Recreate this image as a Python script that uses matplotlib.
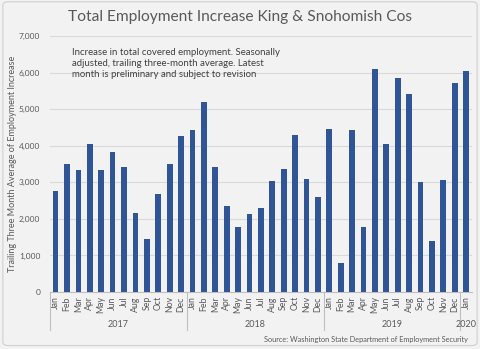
import numpy as np
import matplotlib
matplotlib.use('Agg')
import matplotlib.pyplot as plt
from matplotlib.patches import FancyBboxPatch

plt.rcParams['font.family'] = ['Lato', 'DejaVu Sans']

# monthly values, Jan 2017 .. Jan 2020
months = ['Jan', 'Feb', 'Mar', 'Apr', 'May', 'Jun', 'Jul', 'Aug', 'Sep', 'Oct', 'Nov', 'Dec'] * 3 + ['Jan']
years = ['2017', '2018', '2019', '2020']
year_counts = [12, 12, 12, 1]
values = [2770, 3500, 3330, 4040, 3330, 3830, 3430, 2170, 1460, 2680, 3500, 4270,
          4440, 5200, 3430, 2340, 1770, 2140, 2300, 3040, 3370, 4300, 3100, 2600,
          4460, 800, 4440, 1770, 6100, 4040, 5860, 5410, 3000, 1400, 3060, 5710,
          6050]

bg = '#f2f2f2'
bar_color = '#2f5597'
grid_color = '#d9d9d9'
text_gray = '#595959'

fig = plt.figure(figsize=(4.8, 3.49), dpi=100, facecolor=bg)
fig.patches.append(FancyBboxPatch((0.006, 0.01), 0.988, 0.985, boxstyle='round,pad=0,rounding_size=0.01',
                                  transform=fig.transFigure, facecolor=bg, edgecolor='#d0d0d0', lw=0.8, zorder=-1))
ax = fig.add_axes([0.104, 0.1633, 0.879, 0.7335])
ax.set_facecolor(bg)

x = np.arange(len(values))
ax.bar(x, values, width=0.5, color=bar_color, zorder=3)

ax.set_xlim(-0.5, len(values) - 0.5)
ax.set_ylim(0, 7000)
ax.set_yticks(range(0, 7001, 1000))
ax.set_yticklabels([f'{v:,}' for v in range(0, 7001, 1000)], fontsize=6, color=text_gray)
ax.yaxis.grid(True, color=grid_color, lw=0.8, zorder=0)
ax.tick_params(axis='y', length=0, pad=7)
for s in ['top', 'right', 'left']:
    ax.spines[s].set_visible(False)
ax.spines['bottom'].set_color('#bfbfbf')
ax.spines['bottom'].set_linewidth(0.8)

ax.set_xticks(x)
ax.set_xticklabels(months, rotation=90, fontsize=6.3, color=text_gray)
ax.tick_params(axis='x', length=0, pad=3)

# year group separators and labels
start = 0
edges = [-0.5]
for yr, n in zip(years, year_counts):
    center = start + (n - 1) / 2
    ax.text(center, -0.125, yr, transform=ax.get_xaxis_transform(), ha='center', va='center',
            fontsize=6.5, color=text_gray)
    start += n
    edges.append(start - 0.5)
for e in edges[:-1]:
    ax.plot([e, e], [0, -0.15], transform=ax.get_xaxis_transform(), color='#bfbfbf', lw=0.8, clip_on=False)

ax.set_ylabel('Trailing Three Month Average of Employment Increase', fontsize=6.5, color=text_gray)
ax.yaxis.set_label_coords(-0.078, 0.5)

fig.text(0.5, 0.952, 'Total Employment Increase King & Snohomish Cos', ha='center', va='center',
         fontsize=11.2, color=text_gray)
fig.text(0.151, 0.862, 'Increase in total covered employment. Seasonally\n'
         'adjusted, trailing three-month average. Latest\n'
         'month is preliminary and subject to revision',
         ha='left', va='top', fontsize=6.9, color='#404040', linespacing=1.3)
fig.text(0.975, 0.026, 'Source: Washington State Department of Employment Security', ha='right', va='center',
         fontsize=5.3, color=text_gray)

fig.savefig('out.png', dpi=100, facecolor=bg)
